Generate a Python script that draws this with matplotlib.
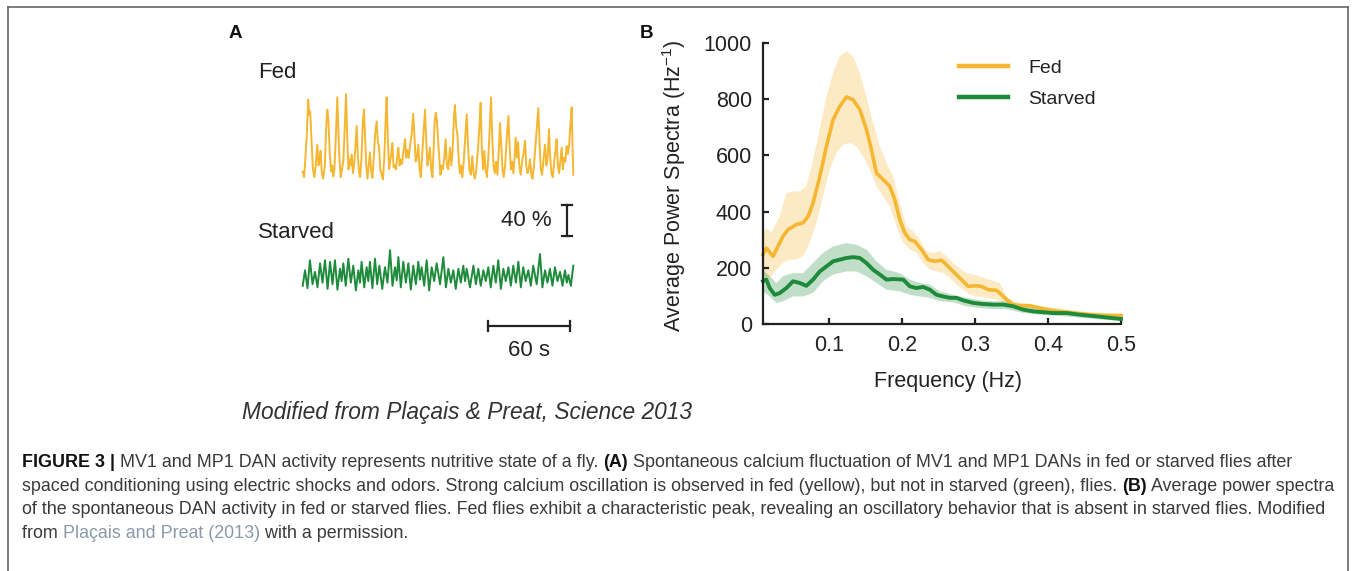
import numpy as np
import matplotlib
matplotlib.use("Agg")
import matplotlib.pyplot as plt
from matplotlib.lines import Line2D

plt.rcParams['font.family'] = ['Liberation Sans', 'DejaVu Sans']
plt.rcParams['mathtext.fontset'] = 'custom'
plt.rcParams['mathtext.rm'] = 'Liberation Sans'
plt.rcParams['mathtext.it'] = 'Liberation Sans:italic'
plt.rcParams['mathtext.default'] = 'regular'

# ---------------- DATA ----------------
# Panel A: spontaneous calcium traces (time in s, dF/F in %)
fed_t = [0, 1, 2, 3, 4, 4.8, 5.5, 6.5, 7.5, 8.5, 9.5, 10.7, 11.5, 12.3, 13.1, 14, 15, 16.2, 17.2, 18, 18.8,
         19.8, 20.8, 21.6, 22.4, 23.2, 24.3, 25.3, 26.2, 27, 27.8, 28.8, 29.8, 30.8, 31.7, 32.6, 33.5, 34.4,
         35.2, 35.8, 36.8, 37.8, 38.6, 39.5, 40.3, 41.2, 42, 43, 44, 44.8, 45.6, 46.5, 47.4, 48.3, 49.2, 50.1,
         51, 52, 53, 54.1, 55, 55.8, 56.8, 57.8, 58.7, 59.7, 60.6, 61.4, 62.3, 63.2, 64, 64.8, 65.6, 66.5,
         67.4, 68.2, 69.1, 70, 70.9, 71.8, 72.7, 73.8, 74.9, 75.8, 76.7, 77.6, 78.5, 79.7, 80.9, 81.8, 82.7,
         83.6, 84.6, 85.5, 86.4, 87.3, 88.3, 89.5, 90.4, 91.3, 92.2, 93.1, 94, 94.9, 95.8, 96.5, 97.3, 98.1,
         99, 99.9, 100.8, 101.7, 102.6, 103.6, 104.6, 105.5, 106.5, 107.8, 108.8, 109.7, 110.6, 111.4, 112.3,
         113.2, 114.1, 115, 115.9, 116.8, 117.8, 118.9, 120, 121, 122, 123, 124.1, 125, 126, 127, 128.2,
         129.3, 130.2, 131.1, 132, 132.9, 133.8, 134.8, 135.8, 136.9, 137.8, 138.7, 139.6, 140.5, 141.5,
         142.5, 143.5, 144.4, 145.3, 146.2, 147.1, 148.1, 149.3, 150.5, 151.4, 152.3, 153.2, 154.2, 155,
         155.8, 156.7, 157.6, 158.5, 159.5, 160.5, 161.6, 162.7, 163.6, 164.5, 165.4, 166.3, 167.3, 168.2,
         169.2, 170.3, 171.4, 172.4, 173.3, 174.2, 175.1, 176.1, 177.3, 178.3, 179.2, 180.2, 181.1, 182, 183,
         184, 185, 185.8, 186.7, 187.6, 188.5, 189.5, 190.4, 191.3, 192.2, 193.1, 194, 194.9, 195.8, 196.8,
         197.5, 198]
fed_v = [12, 5, 30, 60, 105, 85, 90, 50, 15, 5, 20, 47, 20, 25, 39, 10, 3, 20, 70, 92, 80,
         35, 12, 20, 6, 15, 60, 108, 60, 25, 5, 15, 28, 70, 112, 55, 15, 28,
         20, 34, 10, 25, 45, 71, 35, 12, 5, 30, 75, 92, 60, 20, 3, 20, 37, 12,
         4, 30, 60, 77, 50, 45, 15, 8, 2, 30, 75, 108, 55, 15, 25, 35, 49, 18,
         20, 15, 30, 43, 20, 28, 22, 40, 54, 30, 40, 30, 45, 60, 87, 55, 25,
         30, 47, 15, 5, 30, 60, 92, 50, 20, 30, 43, 15, 5, 40, 75, 88, 80,
         55, 30, 8, 20, 15, 30, 54, 20, 15, 43, 20, 40, 80, 98, 70,
         60, 30, 10, 20, 5, 25, 55, 86, 45, 15, 8, 32, 10, 3, 15, 40,
         70, 101, 40, 15, 39, 15, 5, 30, 70, 108, 55, 20, 10, 25,
         8, 40, 75, 45, 15, 5, 20, 55, 84, 45, 15, 25, 10, 30,
         56, 30, 50, 20, 8, 25, 35, 52, 20, 10, 15, 28, 8, 3,
         20, 45, 70, 94, 50, 15, 8, 25, 47, 20, 30, 67, 30, 10, 5,
         25, 40, 54, 20, 10, 25, 43, 15, 30, 25, 45, 35, 45, 70, 95,
         40, 8]

starved_t = [0, 1.7, 3.5, 5.3, 7.2, 9.0, 10.8, 12.7, 14.5, 16.3, 18.2, 20.0, 21.8, 23.6, 25.4, 27.3, 28.5,
             29.7, 31.5, 33.4, 35.2, 37.0, 38.9, 40.7, 41.9, 43.1, 45, 46.8, 48, 49.2, 51, 52.9, 54.5, 56.1,
             58.2, 60.2, 62, 63.9, 65.7, 67.5, 68.8, 70.0, 71.8, 73.6, 75.5, 77.3, 79.1, 80.9, 82.8, 84.6,
             85.8, 87.0, 88.9, 90.7, 92.5, 94.4, 96.2, 98.0, 100.5, 102.9, 104.8, 106.6, 108.4, 110.2, 112,
             113.9, 115.7, 117.5, 118.8, 120.0, 122.4, 124.9, 126.7, 128.5, 130.3, 132.2, 134, 135.8, 137.6,
             139.5, 141.3, 143.1, 145, 146.8, 148.6, 150.5, 152.3, 154.1, 156, 157.8, 159.6, 161.4, 163.2,
             165.1, 166.9, 168.7, 171.2, 173.6, 175.4, 177.3, 179.1, 180.9, 182.7, 184.6, 186.4, 188.3, 190.1,
             191.9, 193.2, 194.4, 196.2, 198.0]
starved_v = [8, 28, 5, 41, 10, 26, 6, 37, 12, 41, 4, 39, 10, 41, 3, 30, 14,
             37, 8, 43, 12, 34, 2, 28, 12, 39, 6, 32, 14, 39, 5, 43, 10, 34,
             4, 32, 12, 54, 8, 32, 15, 45, 6, 39, 12, 37, 3, 34, 10, 39,
             16, 32, 8, 41, 2, 32, 14, 37, 10, 45, 6, 30, 12, 28, 4,
             30, 12, 34, 14, 30, 6, 34, 10, 30, 8, 28, 14, 32, 6,
             34, 12, 41, 4, 30, 14, 32, 8, 34, 12, 39, 6, 32, 14,
             28, 8, 34, 10, 49, 6, 28, 12, 30, 8, 32, 14, 26, 8,
             28, 12, 22, 8, 34]

# Panel B: average power spectra (Hz^-1) vs frequency (Hz)
fed_freq = [0.0100, 0.0146, 0.0237, 0.0283, 0.0374, 0.0443, 0.0557, 0.0648, 0.0717, 0.0785, 0.0877, 0.0968,
            0.1059, 0.1151, 0.1242, 0.1333, 0.1425, 0.1516, 0.1584, 0.1653, 0.1744, 0.1836, 0.1904, 0.1973,
            0.2041, 0.2110, 0.2178, 0.2269, 0.2361, 0.2452, 0.2543, 0.2635, 0.2726, 0.2817, 0.2909, 0.3000,
            0.3091, 0.3183, 0.3297, 0.3365, 0.3434, 0.3525, 0.3616, 0.3753, 0.3890, 0.4027, 0.4164, 0.4347,
            0.4575, 0.4804, 0.5000]
fed_mean = [247, 270, 241, 265, 312, 336, 354, 360, 383, 430, 525, 632, 727, 775, 808, 798, 763, 692, 620, 537,
            514, 490, 442, 371, 324, 300, 294, 265, 229, 223, 227, 205, 181, 158, 134, 136, 134, 122, 120, 104,
            87, 69, 65, 65, 57, 49, 45, 39, 33, 30, 30]
fed_up_freq = [0.0100, 0.0146, 0.0215, 0.0329, 0.0420, 0.0511, 0.0603, 0.0694, 0.0785, 0.0877, 0.0968, 0.1059,
               0.1151, 0.1242, 0.1333, 0.1425, 0.1516, 0.1607, 0.1699, 0.1790, 0.1881, 0.1973, 0.2064, 0.2155,
               0.2247, 0.2338, 0.2429, 0.2521, 0.2612, 0.2703, 0.2795, 0.2886, 0.2977, 0.3068, 0.3205, 0.3342,
               0.3434, 0.3525, 0.3662, 0.3890, 0.4119, 0.4347, 0.4575, 0.5000]
fed_upper = [324, 342, 324, 383, 466, 472, 472, 490, 585, 692, 810, 893, 953, 970, 953, 893, 810, 715, 632, 573,
             526, 430, 348, 330, 300, 259, 253, 259, 241, 217, 199, 181, 176, 170, 158, 146, 98, 81, 75, 65,
             57, 49, 42, 37]
fed_lo_freq = [0.0100, 0.0192, 0.0283, 0.0374, 0.0466, 0.0557, 0.0648, 0.0740, 0.0831, 0.0922, 0.1014, 0.1105,
               0.1196, 0.1288, 0.1379, 0.1470, 0.1562, 0.1653, 0.1744, 0.1836, 0.1927, 0.2018, 0.2110, 0.2201,
               0.2292, 0.2384, 0.2475, 0.2566, 0.2658, 0.2749, 0.2840, 0.2932, 0.3023, 0.3160, 0.3297, 0.3388,
               0.3479, 0.3662, 0.3890, 0.4347, 0.5000]
fed_lower = [170, 164, 193, 217, 229, 229, 241, 288, 359, 454, 549, 609, 638, 644, 632, 597, 549, 490, 454, 419,
             348, 288, 265, 253, 217, 193, 187, 181, 164, 140, 122, 104, 98, 93, 87, 77, 63, 57, 51, 37, 21]

st_freq = [0.0100, 0.0146, 0.0192, 0.0260, 0.0329, 0.0420, 0.0511, 0.0603, 0.0694, 0.0785, 0.0877, 0.0968,
           0.1059, 0.1151, 0.1242, 0.1333, 0.1425, 0.1516, 0.1607, 0.1699, 0.1790, 0.1881, 0.2018, 0.2110,
           0.2201, 0.2292, 0.2384, 0.2475, 0.2566, 0.2658, 0.2749, 0.2840, 0.2977, 0.3114, 0.3251, 0.3388,
           0.3525, 0.3662, 0.3799, 0.3936, 0.4073, 0.4256, 0.4438, 0.4667, 0.5000]
st_mean = [152, 158, 128, 104, 110, 128, 152, 146, 136, 158, 187, 205, 223, 229, 235, 238, 235, 217, 193, 176,
           158, 160, 158, 134, 128, 132, 122, 104, 98, 93, 93, 84, 75, 71, 69, 69, 63, 51, 45, 42, 39, 39, 33,
           27, 18]
st_up_freq = [0.0100, 0.0192, 0.0283, 0.0374, 0.0511, 0.0648, 0.0785, 0.0922, 0.1059, 0.1242, 0.1379, 0.1516,
              0.1653, 0.1790, 0.1973, 0.2110, 0.2247, 0.2384, 0.2521, 0.2703, 0.2886, 0.3068, 0.3251, 0.3434,
              0.3662, 0.3890, 0.4119, 0.4347, 0.5000]
st_upper = [193, 170, 146, 170, 181, 181, 217, 253, 276, 288, 282, 265, 223, 193, 181, 158, 146, 140, 116, 104,
            93, 84, 81, 81, 63, 53, 49, 45, 27]
st_lo_freq = [0.0100, 0.0192, 0.0283, 0.0374, 0.0511, 0.0648, 0.0785, 0.0922, 0.1059, 0.1242, 0.1379, 0.1516,
              0.1653, 0.1790, 0.1973, 0.2110, 0.2247, 0.2384, 0.2521, 0.2703, 0.2886, 0.3068, 0.3251, 0.3434,
              0.3662, 0.3890, 0.4347, 0.5000]
st_lower = [116, 98, 75, 81, 98, 98, 110, 152, 176, 187, 187, 170, 146, 122, 116, 104, 98, 93, 81, 77, 63, 57,
            53, 53, 39, 33, 25, 10]

x_ticks = [0.1, 0.2, 0.3, 0.4, 0.5]
y_ticks = [0, 200, 400, 600, 800, 1000]
x_tick_labels = ["0.1", "0.2", "0.3", "0.4", "0.5"]
y_tick_labels = ["0", "200", "400", "600", "800", "1000"]

FED = '#F5B731'
STARVED = '#1E8B3B'
INK = '#222222'

# ---------------- FIGURE ----------------
W, H = 1357, 571
fig = plt.figure(figsize=(W / 100, H / 100), dpi=100)
fig.patch.set_facecolor('white')


def fx(x):
    return x / W


def fy(y):
    return 1 - y / H


# frame around the figure
for xs, ys in [((8, 1348), (7, 7)), ((8, 8), (7, 575)), ((1348, 1348), (7, 575))]:
    fig.add_artist(Line2D([fx(xs[0]), fx(xs[1])], [fy(ys[0]), fy(ys[1])], transform=fig.transFigure,
                          color='#666666', lw=1.2))

# ---------------- PANEL A ----------------
PX_PER_S = 82 / 60.0
PX_PER_PCT = 31 / 40.0
T0_PX = 302.7
axA = fig.add_axes([fx(250), fy(370), fx(600) - fx(250), (370 - 40) / H])
axA.set_xlim((250 - T0_PX) / PX_PER_S, (600 - T0_PX) / PX_PER_S)
axA.set_ylim(0, (370 - 40) / PX_PER_PCT)
axA.axis('off')
fed_base = (370 - 181) / PX_PER_PCT
st_base = (370 - 292) / PX_PER_PCT
axA.plot(fed_t, np.array(fed_v) + fed_base, color=FED, lw=1.4, solid_joinstyle='round')
axA.plot(starved_t, np.array(starved_v) + st_base, color=STARVED, lw=1.4, solid_joinstyle='round')

# scale bars
vb_t = (567 - T0_PX) / PX_PER_S
vb_y0 = (370 - 236) / PX_PER_PCT
cap_t = 5 / PX_PER_S
axA.plot([vb_t, vb_t], [vb_y0, vb_y0 + 40], color=INK, lw=1.6)
axA.plot([vb_t - cap_t, vb_t + cap_t], [vb_y0, vb_y0], color=INK, lw=1.6)
axA.plot([vb_t - cap_t, vb_t + cap_t], [vb_y0 + 40, vb_y0 + 40], color=INK, lw=1.6)
hb_t0 = (487.5 - T0_PX) / PX_PER_S
hb_y = (370 - 326) / PX_PER_PCT
cap_y = 5 / PX_PER_PCT
axA.plot([hb_t0, hb_t0 + 60], [hb_y, hb_y], color=INK, lw=1.6)
axA.plot([hb_t0, hb_t0], [hb_y - cap_y, hb_y + cap_y], color=INK, lw=1.6)
axA.plot([hb_t0 + 60, hb_t0 + 60], [hb_y - cap_y, hb_y + cap_y], color=INK, lw=1.6)

fig.text(fx(229), fy(33), "A", fontsize=13.5, fontweight='bold', color='#111111', va='center', ha='left')
fig.text(fx(258), fy(73), "Fed", fontsize=16, color=INK, va='center', ha='left')
fig.text(fx(258), fy(233), "Starved", fontsize=16, color=INK, va='center', ha='left')
fig.text(fx(552), fy(221), "40 %", fontsize=16, color=INK, va='center', ha='right')
fig.text(fx(529), fy(350), "60 s", fontsize=16, color=INK, va='center', ha='center')
fig.text(fx(242), fy(413), "Modified from Plaçais & Preat, Science 2013", fontsize=16.4, style='italic',
         color='#333333', va='center', ha='left')

# ---------------- PANEL B ----------------
L, R, T, B = 763, 1121, 43, 324
axB = fig.add_axes([fx(L), fy(B), (R - L) / W, (B - T) / H])
axB.fill(np.concatenate([fed_up_freq, fed_lo_freq[::-1]]), np.concatenate([fed_upper, fed_lower[::-1]]),
         color=FED, alpha=0.28, lw=0)
axB.fill(np.concatenate([st_up_freq, st_lo_freq[::-1]]), np.concatenate([st_upper, st_lower[::-1]]),
         color=STARVED, alpha=0.28, lw=0)
axB.plot(fed_freq, fed_mean, color=FED, lw=2.6, label='Fed', solid_joinstyle='round', clip_on=False)
axB.plot(st_freq, st_mean, color=STARVED, lw=2.8, label='Starved', solid_joinstyle='round', clip_on=False)
axB.set_xlim(0.01, 0.5)
axB.set_ylim(0, 1000)
axB.set_xticks(x_ticks)
axB.set_xticklabels(x_tick_labels)
axB.set_yticks(y_ticks)
axB.set_yticklabels(y_tick_labels)
for s in ['top', 'right']:
    axB.spines[s].set_visible(False)
for s in ['left', 'bottom']:
    axB.spines[s].set_linewidth(1.6)
    axB.spines[s].set_color(INK)
axB.tick_params(direction='in', length=4, width=1.6, labelsize=15.5, colors=INK)
axB.tick_params(axis='y', pad=8)
axB.tick_params(axis='x', pad=8)
axB.set_ylabel("Average Power Spectra (Hz$^{-1}$)", fontsize=15.5, color=INK)
axB.yaxis.set_label_coords((688 - L) / (R - L), (B - 186) / (B - T))
axB.set_xlabel("Frequency (Hz)", fontsize=15.5, color=INK)
axB.xaxis.set_label_coords((948 - L) / (R - L), (B - 371) / (B - T))
leg = axB.legend(loc='upper left', bbox_to_anchor=((959 - L) / (R - L), (B - 59) / (B - T)),
                 frameon=False, fontsize=14, handlelength=2.5, handletextpad=1.05, labelspacing=0.72,
                 borderaxespad=0, borderpad=0)
for h in leg.get_lines():
    h.set_linewidth(3.2)
for t in leg.get_texts():
    t.set_color(INK)
fig.text(fx(640), fy(33), "B", fontsize=13.5, fontweight='bold', color='#111111', va='center', ha='left')

# ---------------- CAPTION ----------------
renderer = fig.canvas.get_renderer()
CAP_FAMILY = ['Liberation Sans Narrow', 'Liberation Sans', 'DejaVu Sans']
BODY = '#3a3a3a'
LINK = '#8a9aa8'
caption = [
    [("FIGURE 3 |", 'bold', '#111111'),
     (" MV1 and MP1 DAN activity represents nutritive state of a fly. ", 'normal', BODY),
     ("(A)", 'bold', '#111111'),
     (" Spontaneous calcium fluctuation of MV1 and MP1 DANs in fed or starved flies after", 'normal', BODY)],
    [("spaced conditioning using electric shocks and odors. Strong calcium oscillation is observed in fed "
      "(yellow), but not in starved (green), flies. ", 'normal', BODY),
     ("(B)", 'bold', '#111111'),
     (" Average power spectra", 'normal', BODY)],
    [("of the spontaneous DAN activity in fed or starved flies. Fed flies exhibit a characteristic peak, "
      "revealing an oscillatory behavior that is absent in starved flies. Modified", 'normal', BODY)],
    [("from ", 'normal', BODY), ("Plaçais and Preat (2013)", 'normal', LINK),
     (" with a permission.", 'normal', BODY)],
]
baselines = [467, 491, 514.5, 538]


def seg_width(text, size, weight):
    t1 = fig.text(0, 0, "|" + text + "|", fontsize=size, fontweight=weight, family=CAP_FAMILY)
    t2 = fig.text(0, 0, "||", fontsize=size, fontweight=weight, family=CAP_FAMILY)
    w = t1.get_window_extent(renderer).width - t2.get_window_extent(renderer).width
    t1.remove()
    t2.remove()
    return w


base_size = 10.0
w3 = sum(seg_width(s, base_size, wt) for s, wt, c in caption[2])
cap_size = base_size * (1325 - 22) / w3

for line, yb in zip(caption, baselines):
    x = 22.0
    for text, wt, col in line:
        fig.text(fx(x), fy(yb), text, fontsize=cap_size, fontweight=wt, color=col, family=CAP_FAMILY,
                 va='baseline', ha='left')
        x += seg_width(text, cap_size, wt)

fig.savefig("out.png", dpi=100, facecolor='white')
